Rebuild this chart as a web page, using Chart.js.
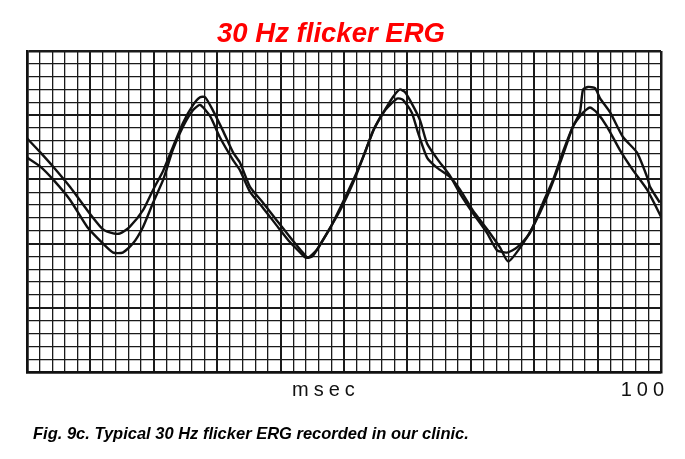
<!DOCTYPE html>
<html>
<head>
<meta charset="utf-8">
<title>30 Hz flicker ERG</title>
<script src="https://cdn.jsdelivr.net/npm/chart.js@4.4.1/dist/chart.umd.min.js"></script>
<style>
    html, body {
        margin: 0;
        padding: 0;
        background: #ffffff;
    }
    #wrap {
        position: relative;
        width: 685px;
        height: 459px;
    }
</style>
</head>
<body>
<div id="wrap">
    <canvas id="ergChart" width="685" height="459"></canvas>
</div>

<script>
// =====================================
// Data (time in msec, amplitude in grid divisions)
// =====================================

const titleText = "30 Hz flicker ERG";
const unitText = "msec";
const endTickText = "100";
const captionText = "Fig. 9c. Typical 30 Hz flicker ERG recorded in our clinic.";

const traceATime = [
    0, 2.1, 4.1, 6.8, 9.5, 12.0, 13.6, 14.7, 16.2, 18.3, 19.9, 21.5, 23.0, 24.6, 26.2, 27.3, 28.1,
    29.3, 30.9, 32.5, 33.6, 35.2, 37.2, 39.4, 41.5, 43.5, 44.3, 45.7, 47.3, 49.4, 51.4, 53.0,
    54.6, 56.2, 57.7, 58.8, 59.6, 60.7, 62.0, 63.1, 64.7, 66.7, 68.3, 70.3, 72.6, 74.1, 75.7,
    77.3, 79.3, 81.4, 83.0, 84.5, 86.1, 87.7, 88.8, 89.9, 91.5, 93.5, 95.6, 97.8, 100
];
const traceAValue = [
    18.2, 17.1, 16.0, 14.4, 12.6, 11.1, 10.8, 10.8, 11.3, 12.6, 14.2, 15.7, 17.5, 19.4, 20.8, 21.4, 21.4,
    20.4, 18.8, 17.1, 16.3, 14.4, 13.2, 11.8, 10.5, 9.3, 8.9, 9.5, 10.8, 12.6, 14.7, 16.7,
    18.8, 20.2, 21.4, 22.0, 21.8, 20.9, 19.6, 17.8, 16.6, 15.3, 13.9, 12.4, 10.8, 9.5, 9.3,
    9.7, 10.8, 13.2, 15.0, 17.1, 19.1, 20.2, 20.6, 20.2, 19.1, 17.3, 15.7, 14.2, 12.1
];

const traceBTime = [
    0, 2.1, 4.1, 6.8, 9.5, 12.0, 13.6, 15.1, 16.7, 18.3, 19.9, 21.5, 23.0, 24.6, 26.2, 27.3,
    28.9, 30.4, 32.5, 33.6, 35.2, 37.2, 39.4, 41.5, 43.1, 44.0, 45.0, 46.2, 47.8, 49.8, 51.7,
    53.3, 54.9, 56.5, 58.4, 59.3, 60.7, 61.7, 63.1, 64.7, 66.7, 68.3, 70.3, 72.6, 74.6, 75.9,
    77.8, 79.8, 82.0, 84.1, 86.1, 87.2, 87.7, 88.5, 89.6, 90.4, 92.0, 94.0, 96.2, 97.8, 98.3, 99.8
];
const traceBValue = [
    16.7, 16.0, 15.0, 13.4, 11.3, 10.0, 9.3, 9.3, 10.0, 11.3, 13.2, 15.0, 17.3, 19.1, 20.4, 20.8,
    19.9, 18.3, 16.5, 15.7, 14.0, 12.8, 11.4, 10.1, 9.3, 8.9, 9.0, 9.9, 11.2, 13.2, 15.2,
    17.1, 19.1, 20.4, 21.3, 21.2, 20.2, 18.6, 16.7, 15.9, 15.2, 14.2, 12.6, 11.1, 9.7, 8.6,
    9.7, 11.3, 13.6, 16.3, 19.1, 20.2, 22.0, 22.2, 22.1, 21.3, 20.2, 18.3, 17.1, 15.2, 14.4, 13.2
];

const timeMax = 100;
const timeStep = 2;
const ampMax = 25;
const ampStep = 1;

function toPoints(times, values) {
    return times.map((t, i) => ({ x: t, y: values[i] }));
}

// =====================================
// Grid line widths (chart paper look)
// =====================================

function xGridWidth(ctx) {
    const v = ctx.tick.value;
    if (v === 0 || v === timeMax) return 2.5;
    return (Math.round(v) % 10 === 0) ? 2 : 1.3;
}

function yGridWidth(ctx) {
    const v = ctx.tick.value;
    if (v === 0 || v === ampMax) return 2.5;
    return (Math.round(v) % 5 === 0) ? 2 : 1.3;
}

// =====================================
// Text labels
// =====================================

const labelPlugin = {
    id: "labelPlugin",
    afterDraw(chart) {
        const ctx = chart.ctx;
        const xScale = chart.scales.x;

        ctx.save();

        // title
        ctx.fillStyle = "#ff0000";
        ctx.font = "italic bold 28px 'Liberation Sans', Arial, sans-serif";
        ctx.textAlign = "center";
        ctx.textBaseline = "alphabetic";
        ctx.fillText(titleText, 331, 42, 228);

        // axis texts
        ctx.fillStyle = "#111111";
        ctx.font = "20px 'Liberation Sans', Arial, sans-serif";
        ctx.letterSpacing = "5px";
        ctx.textAlign = "left";
        ctx.fillText(unitText, 292, 396);

        ctx.textAlign = "right";
        ctx.fillText(endTickText, xScale.getPixelForValue(timeMax) + 8, 396);
        ctx.letterSpacing = "0px";

        // caption
        ctx.fillStyle = "#000000";
        ctx.font = "italic bold 16.5px 'Liberation Sans', Arial, sans-serif";
        ctx.textAlign = "left";
        ctx.fillText(captionText, 33, 439, 437);

        ctx.restore();
    }
};

// =====================================
// Chart
// =====================================

const ergChart = new Chart(document.getElementById("ergChart"), {
    type: "line",
    data: {
        datasets: [{
            data: toPoints(traceATime, traceAValue),
            borderColor: "#111111",
            borderWidth: 2.4,
            pointRadius: 0,
            fill: false,
            tension: 0.2
        }, {
            data: toPoints(traceBTime, traceBValue),
            borderColor: "#111111",
            borderWidth: 2.4,
            pointRadius: 0,
            fill: false,
            tension: 0.2
        }]
    },
    options: {
        responsive: false,
        animation: false,
        layout: {
            padding: {
                left: 27,
                right: 24,
                top: 51,
                bottom: 87
            }
        },
        plugins: {
            legend: {
                display: false
            },
            tooltip: {
                enabled: false
            }
        },
        scales: {
            x: {
                type: "linear",
                min: 0,
                max: timeMax,
                ticks: {
                    display: false,
                    stepSize: timeStep
                },
                grid: {
                    color: "#1a1a1a",
                    lineWidth: xGridWidth,
                    drawTicks: false
                },
                border: {
                    display: true,
                    color: "#111111",
                    width: 2.5
                }
            },
            y: {
                min: 0,
                max: ampMax,
                ticks: {
                    display: false,
                    stepSize: ampStep
                },
                grid: {
                    color: "#1a1a1a",
                    lineWidth: yGridWidth,
                    drawTicks: false
                },
                border: {
                    display: true,
                    color: "#111111",
                    width: 2.5
                }
            }
        }
    },
    plugins: [labelPlugin]
});
</script>
</body>
</html>
